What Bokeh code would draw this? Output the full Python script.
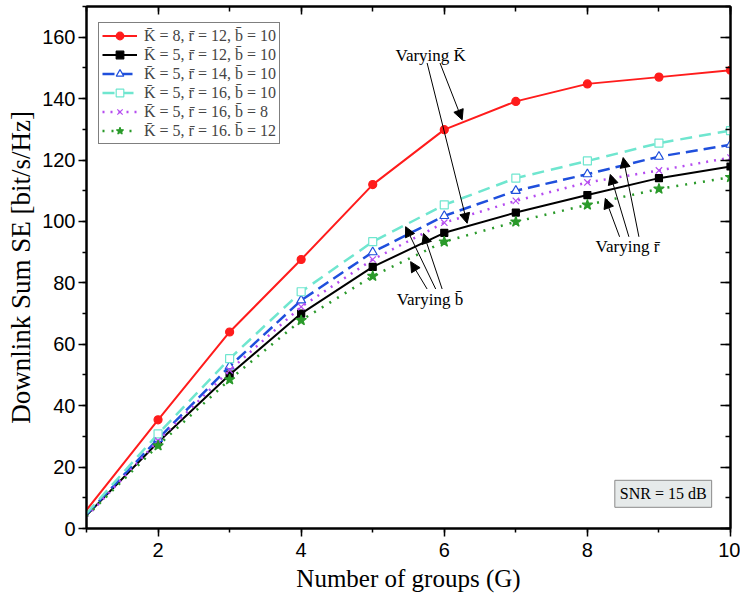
from bokeh.plotting import figure
from bokeh.models import (Range1d, LinearAxis, SingleIntervalTicker, Legend, LegendItem,
                          Label, Arrow, NormalHead, ColumnDataSource, CustomJSTickFormatter)
from bokeh.embed import file_html
from bokeh.resources import INLINE

# ---------------- data ----------------
G = [1, 2, 3, 4, 5, 6, 7, 8, 9, 10]
se_K8_r12_b10 = [6.0, 35.4, 64.0, 87.6, 112.0, 129.9, 139.1, 144.8, 147.0, 149.2]
se_K5_r12_b10 = [4.3, 28.1, 50.1, 70.0, 85.2, 96.3, 102.9, 108.6, 114.1, 117.9]
se_K5_r14_b10 = [4.6, 29.2, 52.8, 74.3, 90.0, 101.8, 110.0, 115.4, 121.1, 125.0]
se_K5_r16_b10 = [4.9, 30.8, 55.3, 77.1, 93.4, 105.4, 114.1, 119.7, 125.5, 129.6]
se_K5_r16_b8 = [3.8, 28.6, 51.5, 72.2, 87.6, 99.6, 106.7, 112.7, 116.6, 120.8]
se_K5_r16_b12 = [4.0, 27.0, 48.5, 67.8, 82.2, 93.4, 99.9, 105.4, 110.6, 114.4]

labels = [
    "K\u0304 = 8, r\u0304 = 12, b\u0304 = 10",
    "K\u0304 = 5, r\u0304 = 12, b\u0304 = 10",
    "K\u0304 = 5, r\u0304 = 14, b\u0304 = 10",
    "K\u0304 = 5, r\u0304 = 16, b\u0304 = 10",
    "K\u0304 = 5, r\u0304 = 16, b\u0304 = 8",
    "K\u0304 = 5, r\u0304 = 16. b\u0304 = 12",
]

# annotation arrows (data coords)
arrow_x_start = [5.76, 5.94, 8.45, 8.58, 8.72, 5.76, 5.88, 5.97]
arrow_y_start = [151.6, 151.6, 95.0, 95.0, 95.0, 78.0, 78.0, 78.0]
arrow_x_end = [6.32, 6.25, 8.25, 8.32, 8.50, 5.53, 5.46, 5.71]
arrow_y_end = [99.4, 133.1, 107.5, 115.3, 120.8, 86.9, 98.3, 96.1]

note_texts = ["Varying K\u0304", "Varying r\u0304", "Varying b\u0304"]
note_x = [5.81, 8.56, 5.80]
note_y = [154.0, 91.8, 74.6]

# ---------------- figure ----------------
SERIF = "Liberation Serif"
SANS = "Liberation Sans"

p = figure(width=740, height=594, output_backend="svg", toolbar_location=None,
           x_range=Range1d(1, 10), y_range=Range1d(0, 170),
           min_border_left=86, min_border_right=10, min_border_top=6, min_border_bottom=10)
p.xgrid.visible = False
p.ygrid.visible = False
p.outline_line_color = "black"
p.outline_line_width = 2
p.background_fill_color = "white"

xt = SingleIntervalTicker(interval=2, num_minor_ticks=2)
yt = SingleIntervalTicker(interval=20, num_minor_ticks=2)

xa = p.xaxis[0]
xa.ticker = xt
xa.axis_label = "Number of groups (G)"
ya = p.yaxis[0]
ya.ticker = yt
ya.axis_label = "Downlink Sum SE [bit/s/Hz]"
for ax in (xa, ya):
    ax.axis_line_width = 2
    ax.major_tick_line_width = 1.5
    ax.minor_tick_line_width = 1.5
    ax.major_tick_in = 0
    ax.minor_tick_in = 0
    ax.major_tick_out = 8
    ax.minor_tick_out = 4
    ax.major_label_text_font = SANS
    ax.major_label_text_font_size = "20px"
    ax.major_label_text_color = "black"
    ax.axis_label_text_font = SERIF
    ax.axis_label_text_font_style = "normal"
    ax.axis_label_text_color = "black"
xa.axis_label_text_font_size = "25px"
ya.axis_label_text_font_size = "27px"
xa.major_label_standoff = 6
xa.axis_label_standoff = 5
ya.major_label_standoff = 3
ya.axis_label_standoff = 3

top = LinearAxis(ticker=SingleIntervalTicker(interval=2, num_minor_ticks=2),
                 formatter=CustomJSTickFormatter(code="return ''"))
right = LinearAxis(ticker=SingleIntervalTicker(interval=20, num_minor_ticks=2),
                   formatter=CustomJSTickFormatter(code="return ''"))
for ax, mj, mn in ((top, 8, 5), (right, 10, 5)):
    ax.axis_line_width = 2
    ax.major_tick_line_width = 1.5
    ax.minor_tick_line_width = 1.5
    ax.major_tick_in = mj
    ax.minor_tick_in = mn
    ax.major_tick_out = 0
    ax.minor_tick_out = 0
    ax.major_label_standoff = 0
p.add_layout(top, "above")
p.add_layout(right, "right")

styles = [
    dict(data=se_K8_r12_b10, color="#ff1c1c", dash="solid", lw=2, marker="circle", size=8, fill="#ff1c1c"),
    dict(data=se_K5_r12_b10, color="#000000", dash="solid", lw=2, marker="square", size=7, fill="#000000"),
    dict(data=se_K5_r14_b10, color="#1f4fdc", dash="12 6", lw=2.5, marker="triangle", size=9, fill="white"),
    dict(data=se_K5_r16_b10, color="#6fe6cf", dash="12 7", lw=2.5, marker="square", size=8, fill="white"),
    dict(data=se_K5_r16_b8, color="#b54cf0", dash="2 6", lw=2.5, marker="x", size=9, fill="#b54cf0"),
    dict(data=se_K5_r16_b12, color="#2a9a2a", dash="2 7", lw=2.5, marker="star", size=11, fill="#2a9a2a"),
]

items = []
for st, lab in zip(styles, labels):
    src = ColumnDataSource(dict(x=G, y=st["data"]))
    msrc = ColumnDataSource(dict(x=G[1:], y=st["data"][1:]))
    ln = p.line("x", "y", source=src, line_color=st["color"], line_width=st["lw"],
                line_dash=st["dash"])
    sc = p.scatter("x", "y", source=msrc, marker=st["marker"], size=st["size"],
                   fill_color=st["fill"], line_color=st["color"], line_width=1.2)
    items.append(LegendItem(label=lab, renderers=[ln, sc]))

legend = Legend(items=items, location=(12, 384), label_text_font=SERIF,
                label_text_font_size="16px", label_text_line_height=1.0,
                label_height=19, glyph_height=19,
                glyph_width=35, spacing=0, padding=3, margin=0, label_standoff=7,
                border_line_color="black", border_line_width=1,
                background_fill_color="white", background_fill_alpha=1)
p.add_layout(legend, "center")

asrc = ColumnDataSource(dict(xs=arrow_x_start, ys=arrow_y_start, xe=arrow_x_end, ye=arrow_y_end))
p.add_layout(Arrow(source=asrc, x_start="xs", y_start="ys", x_end="xe", y_end="ye",
                   line_color="black", line_width=1,
                   end=NormalHead(size=10, fill_color="black", line_color="black", line_width=1)))

for t, x, y in zip(note_texts, note_x, note_y):
    p.add_layout(Label(x=x, y=y, text=t, text_font=SERIF, text_font_size="17px",
                       text_align="center", text_baseline="middle", text_color="black"))

p.add_layout(Label(x=9.06, y=11.3, text="SNR = 15 dB", text_font=SERIF, text_font_size="16px",
                   text_align="center", text_baseline="middle", text_color="black",
                   background_fill_color="#e6eaea", border_line_color="#8a8a8a",
                   border_line_width=1, padding=5))

open("out.html", "w").write(file_html(p, INLINE))
